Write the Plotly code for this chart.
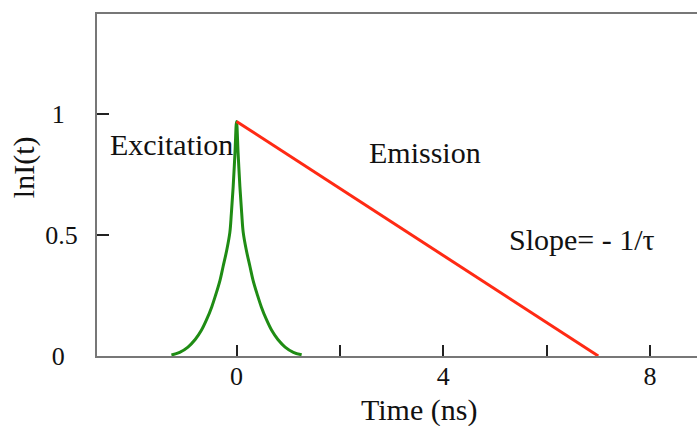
import plotly.graph_objects as go

# Excitation pulse (green)
exc_t = [-1.26, -1.1, -0.94, -0.8, -0.68, -0.58, -0.48, -0.4, -0.32, -0.26, -0.19,
         -0.13, -0.1, -0.065, -0.03, 0.0,
         0.03, 0.065, 0.1, 0.13, 0.19, 0.26, 0.32, 0.4, 0.48, 0.58, 0.68,
         0.8, 0.94, 1.1, 1.26]
exc_y = [0.004, 0.015, 0.037, 0.068, 0.106, 0.15, 0.203, 0.255, 0.313, 0.37, 0.437,
         0.51, 0.59, 0.70, 0.84, 0.97,
         0.84, 0.70, 0.59, 0.51, 0.437, 0.37, 0.313, 0.255, 0.203, 0.15, 0.106,
         0.068, 0.037, 0.015, 0.005]

# Emission decay (red), straight line in ln scale
em_t = [0.0, 7.0]
em_y = [0.97, 0.0]

x_tickvals = [0, 2, 4, 6, 8]
x_ticktext = ["0", "", "4", "", "8"]
y_tickvals = [0, 0.5, 1]
y_ticktext = ["0\u00a0\u00a0", "0.5", "1\u00a0\u00a0"]

FONT = "Liberation Serif, Times New Roman, serif"

fig = go.Figure()
fig.add_trace(go.Scatter(x=exc_t, y=exc_y, mode="lines", line_shape="spline",
                         line=dict(color="#1f8c14", width=3), cliponaxis=False,
                         hoverinfo="skip"))
fig.add_trace(go.Scatter(x=em_t, y=em_y, mode="lines",
                         line=dict(color="#ff2a14", width=3), cliponaxis=False,
                         hoverinfo="skip"))

annots = [
    dict(text="Excitation", x=108, y=144, xanchor="left"),
    dict(text="Emission", x=367, y=152, xanchor="left"),
    dict(text="Slope= - 1/\u03c4", x=507, y=239, xanchor="left"),
    dict(text="Time (ns)", x=419, y=410, xanchor="center"),
]
W, H = 697, 426
for a in annots:
    fig.add_annotation(text=a["text"], xref="paper", yref="paper",
                       x=(a["x"] - 97) / 600, y=(H - a["y"] - 70.3) / (H - 14 - 70.3),
                       xanchor=a["xanchor"], yanchor="middle", showarrow=False,
                       font=dict(family=FONT, size=30, color="#111"))
fig.add_annotation(text="lnI(t)", xref="paper", yref="paper",
                   x=(24 - 97) / 600, y=(H - 167 - 70.3) / (H - 14 - 70.3),
                   xanchor="center", yanchor="middle", textangle=-90, showarrow=False,
                   font=dict(family=FONT, size=30, color="#111"))

fig.update_layout(
    width=W, height=H,
    margin=dict(l=97, r=0, t=14, b=70.3),
    paper_bgcolor="white", plot_bgcolor="white",
    showlegend=False,
    xaxis=dict(range=[-2.70, 8.91], showgrid=False, zeroline=False,
               showline=True, linecolor="#777", linewidth=2, mirror=True,
               ticks="inside", ticklen=11, tickwidth=2, tickcolor="#222",
               tickvals=x_tickvals, ticktext=x_ticktext, ticklabelstandoff=-4,
               tickfont=dict(family=FONT, size=26, color="#111")),
    yaxis=dict(range=[0, 1.414], showgrid=False, zeroline=False,
               showline=True, linecolor="#777", linewidth=2,
               ticks="inside", ticklen=12, tickwidth=2, tickcolor="#222",
               tickvals=y_tickvals, ticktext=y_ticktext, ticklabelstandoff=12,
               tickfont=dict(family=FONT, size=26, color="#111")),
)

fig.write_html("out.html", config={"displayModeBar": False},
               post_script="document.body.style.margin='0';")
